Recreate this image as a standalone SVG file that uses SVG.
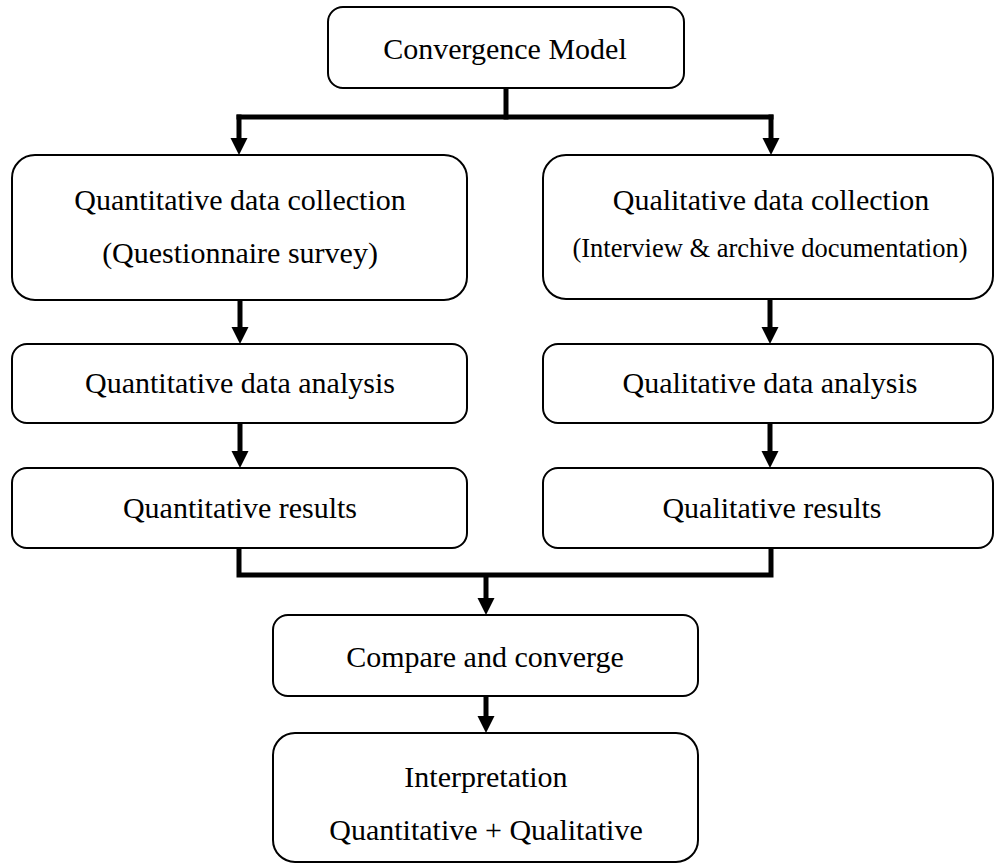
<svg xmlns="http://www.w3.org/2000/svg" width="995" height="865" viewBox="0 0 995 865">
  <style>
    .box { fill: #ffffff; stroke: #000000; stroke-width: 2; }
    .lbl { font-family: "Liberation Serif", "Times New Roman", serif; font-size: 30px; fill: #000000; text-anchor: middle; }
    .sm { font-size: 26.5px; }
    .wire { fill: none; stroke: #000000; stroke-width: 5; stroke-linejoin: miter; stroke-linecap: square; }
    .shaft { fill: none; stroke: #000000; stroke-width: 5; }
  </style>
  <defs>
    <marker id="head" viewBox="0 0 17 17" refX="8.5" refY="17" markerWidth="17" markerHeight="17" markerUnits="userSpaceOnUse" orient="auto-start-reverse">
      <path d="M0,0 L17,0 L8.5,17 Z" fill="#000000"/>
    </marker>
  </defs>
  <rect width="995" height="865" fill="#ffffff"/>

  <!-- connectors -->
  <g id="connectors">
    <!-- split from the model into the two strands -->
    <path class="wire" d="M506,88 V117"/>
    <path class="wire" d="M239,117 H771"/>
    <path class="wire" d="M239,117 V139" stroke-linecap="butt"/>
    <path d="M230.5,138 H247.5 L239,155 Z"/>
    <path class="wire" d="M771,117 V139" stroke-linecap="butt"/>
    <path d="M762.5,138 H779.5 L771,155 Z"/>

    <!-- quantitative strand -->
    <line class="shaft" x1="240" y1="300" x2="240" y2="328"/>
    <path d="M231.5,327 H248.5 L240,344 Z"/>
    <line class="shaft" x1="240" y1="423" x2="240" y2="452"/>
    <path d="M231.5,451 H248.5 L240,468 Z"/>

    <!-- qualitative strand -->
    <line class="shaft" x1="770" y1="299" x2="770" y2="328"/>
    <path d="M761.5,327 H778.5 L770,344 Z"/>
    <line class="shaft" x1="770" y1="423" x2="770" y2="452"/>
    <path d="M761.5,451 H778.5 L770,468 Z"/>

    <!-- merge of results -->
    <path class="wire" d="M239,548 V575 H771 V548" stroke-linecap="butt"/>
    <line class="shaft" x1="486" y1="575" x2="486" y2="599"/>
    <path d="M477.5,598 H494.5 L486,615 Z"/>

    <!-- compare to interpretation -->
    <line class="shaft" x1="486" y1="696" x2="486" y2="717"/>
    <path d="M477.5,716 H494.5 L486,733 Z"/>
  </g>

  <g id="convergence-model">
    <rect class="box" x="328" y="7" width="356" height="81" rx="15" ry="15"/>
    <text class="lbl" x="505" y="59">Convergence Model</text>
  </g>

  <g id="quant-collection">
    <rect class="box" x="12" y="155" width="455" height="145" rx="23" ry="23"/>
    <text class="lbl" x="240" y="210">Quantitative data collection</text>
    <text class="lbl" x="240" y="263">(Questionnaire survey)</text>
  </g>

  <g id="qual-collection">
    <rect class="box" x="543" y="155" width="450" height="144" rx="23" ry="23"/>
    <text class="lbl" x="771" y="210">Qualitative data collection</text>
    <text class="lbl sm" x="770" y="257">(Interview &amp; archive documentation)</text>
  </g>

  <g id="quant-analysis">
    <rect class="box" x="12" y="344" width="455" height="79" rx="15" ry="15"/>
    <text class="lbl" x="240" y="393">Quantitative data analysis</text>
  </g>

  <g id="qual-analysis">
    <rect class="box" x="543" y="344" width="450" height="79" rx="15" ry="15"/>
    <text class="lbl" x="770" y="393">Qualitative data analysis</text>
  </g>

  <g id="quant-results">
    <rect class="box" x="12" y="468" width="455" height="80" rx="15" ry="15"/>
    <text class="lbl" x="240" y="518">Quantitative results</text>
  </g>

  <g id="qual-results">
    <rect class="box" x="543" y="468" width="450" height="80" rx="15" ry="15"/>
    <text class="lbl" x="772" y="518">Qualitative results</text>
  </g>

  <g id="compare">
    <rect class="box" x="273" y="615" width="425" height="81" rx="15" ry="15"/>
    <text class="lbl" x="485" y="667">Compare and converge</text>
  </g>

  <g id="interpretation">
    <rect class="box" x="273" y="733" width="425" height="129" rx="22" ry="22"/>
    <text class="lbl" x="486" y="787">Interpretation</text>
    <text class="lbl" x="486" y="840">Quantitative + Qualitative</text>
  </g>
</svg>
